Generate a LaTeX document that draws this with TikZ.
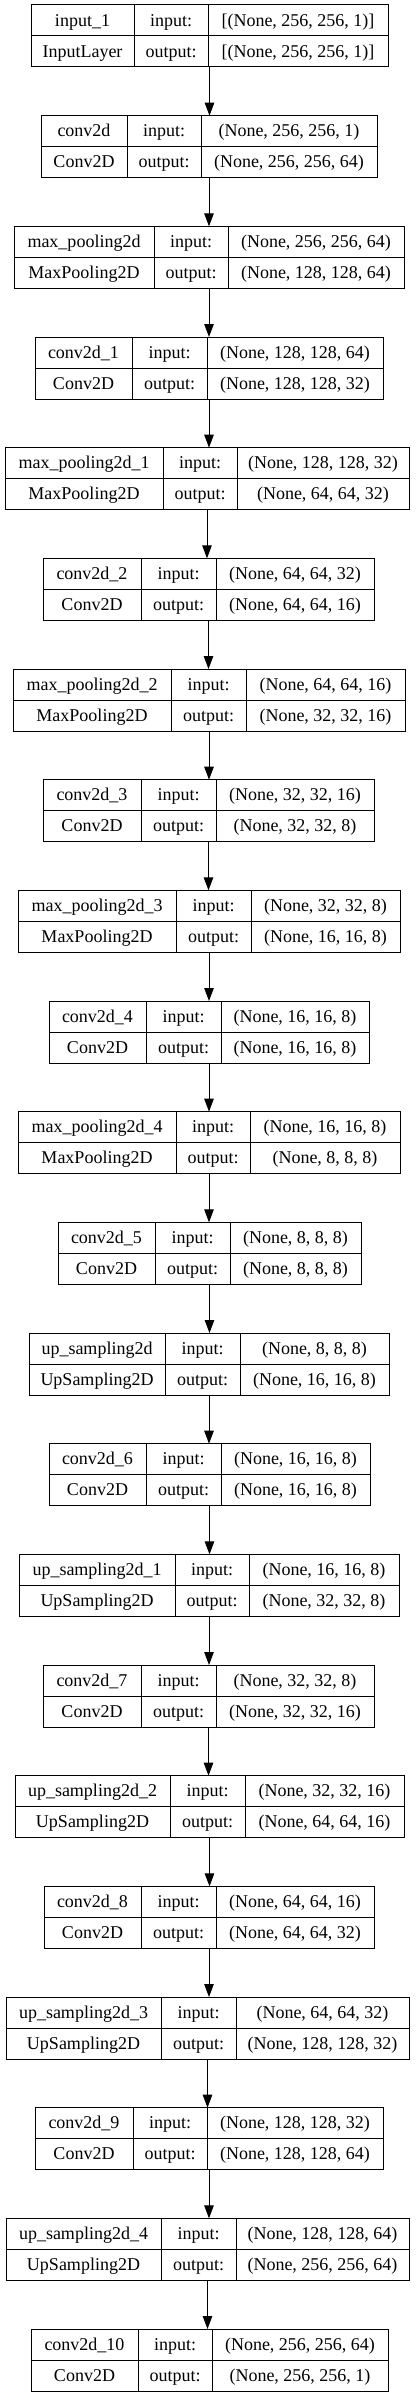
\documentclass[tikz,border=0pt]{standalone}
\usepackage{fontspec}
\setmainfont{Liberation Serif}
\usetikzlibrary{arrows.meta}

\begin{document}
\begin{tikzpicture}[x=1pt,y=-1pt,line width=1pt,
    layer/.style={rectangle,draw,inner sep=0pt,outer sep=0pt,minimum height=62pt},
    cell/.style={inner sep=0pt,text height=11.5pt,text depth=0pt,font=\fontsize{18}{20}\selectfont},
    conn/.style={-{Triangle[length=13pt,width=9.5pt]}}]

  \useasboundingbox (0,0) rectangle (419,2397);

  % index / name / class / left / cut1 / cut2 / right / input / output
  \foreach \i/\nm/\cl/\l/\a/\b/\r/\sin/\sout in {
      0/input\_1/InputLayer/31/134/208/388/{[(None, 256, 256, 1)]}/{[(None, 256, 256, 1)]},
      1/conv2d/Conv2D/41/127/201/377/{(None, 256, 256, 1)}/{(None, 256, 256, 64)},
      2/max\_pooling2d/MaxPooling2D/14/154/228/404/{(None, 256, 256, 64)}/{(None, 128, 128, 64)},
      3/conv2d\_1/Conv2D/35/132/207/383/{(None, 128, 128, 64)}/{(None, 128, 128, 32)},
      4/max\_pooling2d\_1/MaxPooling2D/5/163/237/409/{(None, 128, 128, 32)}/{(None, 64, 64, 32)},
      5/conv2d\_2/Conv2D/43/141/216/374/{(None, 64, 64, 32)}/{(None, 64, 64, 16)},
      6/max\_pooling2d\_2/MaxPooling2D/13/171/246/405/{(None, 64, 64, 16)}/{(None, 32, 32, 16)},
      7/conv2d\_3/Conv2D/43/141/216/374/{(None, 32, 32, 16)}/{(None, 32, 32, 8)},
      8/max\_pooling2d\_3/MaxPooling2D/18/176/251/400/{(None, 32, 32, 8)}/{(None, 16, 16, 8)},
      9/conv2d\_4/Conv2D/49/146/221/369/{(None, 16, 16, 8)}/{(None, 16, 16, 8)},
      10/max\_pooling2d\_4/MaxPooling2D/18/176/250/400/{(None, 16, 16, 8)}/{(None, 8, 8, 8)},
      11/conv2d\_5/Conv2D/58/155/230/361/{(None, 8, 8, 8)}/{(None, 8, 8, 8)},
      12/up\_sampling2d/UpSampling2D/29/165/240/389/{(None, 8, 8, 8)}/{(None, 16, 16, 8)},
      13/conv2d\_6/Conv2D/49/146/221/370/{(None, 16, 16, 8)}/{(None, 16, 16, 8)},
      14/up\_sampling2d\_1/UpSampling2D/19/175/249/399/{(None, 16, 16, 8)}/{(None, 32, 32, 8)},
      15/conv2d\_7/Conv2D/43/141/216/374/{(None, 32, 32, 8)}/{(None, 32, 32, 16)},
      16/up\_sampling2d\_2/UpSampling2D/15/170/245/404/{(None, 32, 32, 16)}/{(None, 64, 64, 16)},
      17/conv2d\_8/Conv2D/44/141/216/374/{(None, 64, 64, 16)}/{(None, 64, 64, 32)},
      18/up\_sampling2d\_3/UpSampling2D/6/161/236/409/{(None, 64, 64, 32)}/{(None, 128, 128, 32)},
      19/conv2d\_9/Conv2D/35/133/207/383/{(None, 128, 128, 32)}/{(None, 128, 128, 64)},
      20/up\_sampling2d\_4/UpSampling2D/6/161/236/409/{(None, 128, 128, 64)}/{(None, 256, 256, 64)},
      21/conv2d\_10/Conv2D/31/138/212/388/{(None, 256, 256, 64)}/{(None, 256, 256, 1)}} {
    \pgfmathsetmacro\t{5+110.667*\i}
    \node[layer,minimum width={(\r-\l)*1pt}] (l\i) at ({(\l+\r)/2},{\t+31}) {};
    \draw (l\i.west) -- (l\i.east);
    \draw (\a,\t) -- (\a,{\t+62});
    \draw (\b,\t) -- (\b,{\t+62});
    \begin{scope}[every node/.style={cell}]
      \node at ({(\l+\a)/2},{\t+15.5}) {\nm};
      \node at ({(\a+\b)/2},{\t+15.5}) {input:};
      \node at ({(\b+\r)/2},{\t+15.5}) {\sin};
      \node at ({(\l+\a)/2},{\t+46.5}) {\cl};
      \node at ({(\a+\b)/2},{\t+46.5}) {output:};
      \node at ({(\b+\r)/2},{\t+46.5}) {\sout};
    \end{scope}
  }

  % arrows between layers
  \foreach \i [evaluate=\i as \j using int(\i+1)] in {0,...,20}
    \draw[conn] (l\i.south) -- (l\i.south |- l\j.north);

\end{tikzpicture}
\end{document}
